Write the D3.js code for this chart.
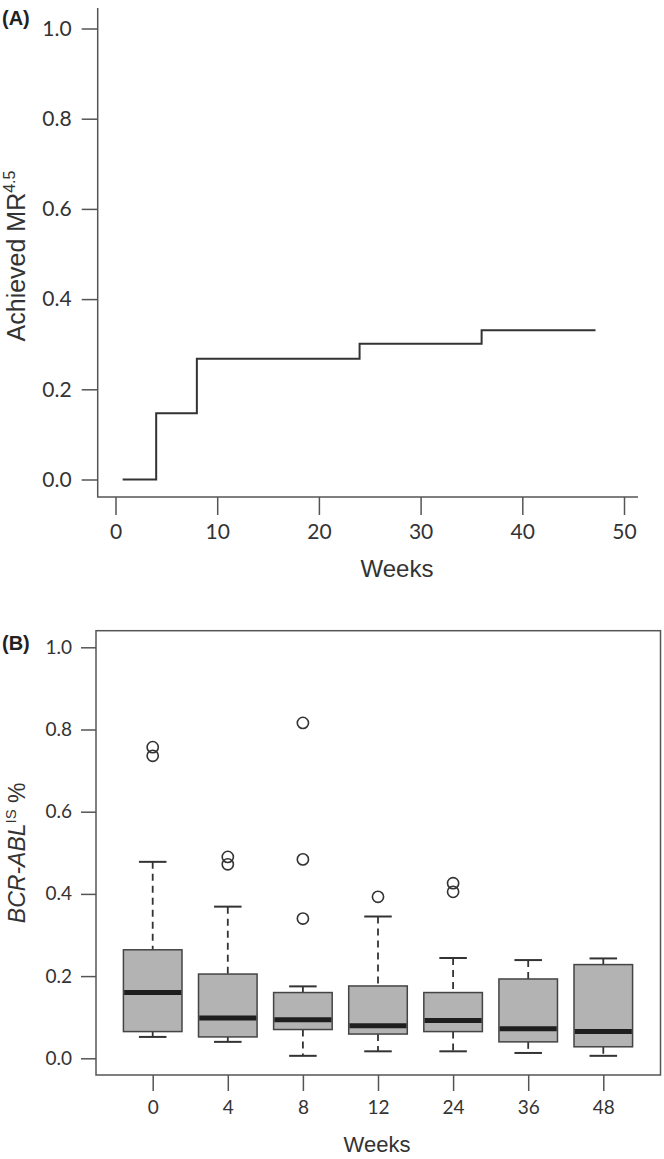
<!DOCTYPE html>
<html>
<head>
<meta charset="utf-8">
<script src="https://cdn.jsdelivr.net/npm/d3@7/dist/d3.min.js"></script>
<style>
  html, body { margin: 0; padding: 0; background: #fff; }
  svg { display: block; }
  .tick text { font-family: Lato, "Open Sans", sans-serif; fill: #333; }
</style>
</head>
<body>
<svg id="chart" width="664" height="1159"></svg>
<script>
// ---------- Data ----------
// Panel A: cumulative incidence of MR4.5 (step function)
const kmTime = [0.7, 4, 8, 24, 36, 47.2];
const kmValue = [0, 0.147, 0.268, 0.301, 0.331, 0.331];
const xTicksA = [0, 10, 20, 30, 40, 50];
const yTicks = [0, 0.2, 0.4, 0.6, 0.8, 1.0];

// Panel B: BCR-ABL IS % boxplots by week
const weeks = ["0", "4", "8", "12", "24", "36", "48"];
const lowerWhisker = [0.052, 0.040, 0.006, 0.017, 0.017, 0.013, 0.006];
const q1 = [0.065, 0.052, 0.070, 0.059, 0.065, 0.040, 0.028];
const median = [0.160, 0.098, 0.094, 0.079, 0.092, 0.072, 0.065];
const q3 = [0.264, 0.205, 0.160, 0.176, 0.160, 0.193, 0.228];
const upperWhisker = [0.478, 0.369, 0.175, 0.345, 0.244, 0.239, 0.243];
const outliers = [[0.757, 0.736], [0.490, 0.472], [0.816, 0.484, 0.340], [0.393], [0.426, 0.405], [], []];

// ---------- Layout ----------
const svg = d3.select("#chart");
const A = { left: 97.7, right: 638, top: 8, bottom: 497, y0: 479.5, y1: 28.5, x0: 115.5, x1: 624 };
const B = { left: 96, right: 660.5, top: 630.7, bottom: 1075, y0: 1058.3, y1: 647.3, x0: 152.7, x1: 603.3 };
const axisColor = "#555";
const lineColor = "#333";
const titleFont = "'Liberation Sans', Arial, sans-serif";

// ---------- Panel A ----------
const xA = d3.scaleLinear().domain([0, 50]).range([A.x0, A.x1]);
const yA = d3.scaleLinear().domain([0, 1]).range([A.y0, A.y1]);

const gA = svg.append("g");
gA.append("path")
  .attr("d", `M${A.left},${A.top}V${A.bottom}H${A.right}`)
  .attr("fill", "none").attr("stroke", axisColor).attr("stroke-width", 1.5);

const yAxisA = d3.axisLeft(yA).tickValues(yTicks).tickFormat(d3.format(".1f")).tickSize(16).tickPadding(10);
const gyA = gA.append("g").attr("transform", `translate(${A.left},0)`).call(yAxisA);
gyA.select(".domain").remove();
gyA.selectAll(".tick line").attr("stroke", axisColor).attr("stroke-width", 1.5);
gyA.selectAll(".tick text").style("font-size", "21px");

const xAxisA = d3.axisBottom(xA).tickValues(xTicksA).tickSize(18).tickPadding(9);
const gxA = gA.append("g").attr("transform", `translate(0,${A.bottom})`).call(xAxisA);
gxA.select(".domain").remove();
gxA.selectAll(".tick line").attr("stroke", axisColor).attr("stroke-width", 1.5);
gxA.selectAll(".tick text").style("font-size", "21px");

const stepLine = d3.line().x((d, i) => xA(kmTime[i])).y((d, i) => yA(kmValue[i])).curve(d3.curveStepAfter);
gA.append("path").datum(kmTime).attr("d", stepLine)
  .attr("fill", "none").attr("stroke", lineColor).attr("stroke-width", 2);

gA.append("text").attr("x", 397).attr("y", 577).attr("text-anchor", "middle")
  .style("font-family", titleFont).style("font-size", "24px").attr("fill", "#333")
  .text("Weeks");

const yLabA = gA.append("text").attr("transform", `translate(25,${(A.y0 + A.y1) / 2 + 2}) rotate(-90)`)
  .attr("text-anchor", "middle")
  .style("font-family", titleFont).style("font-size", "25px").attr("fill", "#333");
yLabA.append("tspan").text("Achieved MR");
yLabA.append("tspan").attr("dy", -10).style("font-size", "16px").text("4.5");

svg.append("text").attr("x", 2).attr("y", 25)
  .style("font-family", titleFont).style("font-size", "20px").style("font-weight", "bold").attr("fill", "#222")
  .text("(A)");

// ---------- Panel B ----------
const xB = d3.scalePoint().domain(weeks).range([B.x0, B.x1]);
const yB = d3.scaleLinear().domain([0, 1]).range([B.y0, B.y1]);
const step = xB.step();
const boxW = step * 0.78;
const capW = boxW * 0.47;

const gB = svg.append("g");
gB.append("rect").attr("x", B.left).attr("y", B.top)
  .attr("width", B.right - B.left).attr("height", B.bottom - B.top)
  .attr("fill", "none").attr("stroke", axisColor).attr("stroke-width", 1.5);

const yAxisB = d3.axisLeft(yB).tickValues(yTicks).tickFormat(d3.format(".1f")).tickSize(15).tickPadding(9);
const gyB = gB.append("g").attr("transform", `translate(${B.left},0)`).call(yAxisB);
gyB.select(".domain").remove();
gyB.selectAll(".tick line").attr("stroke", axisColor).attr("stroke-width", 1.5);
gyB.selectAll(".tick text").style("font-size", "19px");

const xAxisB = d3.axisBottom(xB).tickSize(16).tickPadding(10);
const gxB = gB.append("g").attr("transform", `translate(0,${B.bottom})`).call(xAxisB);
gxB.select(".domain").remove();
gxB.selectAll(".tick line").attr("stroke", axisColor).attr("stroke-width", 1.5);
gxB.selectAll(".tick text").style("font-size", "19px");

const boxes = gB.selectAll("g.box").data(weeks).enter().append("g").attr("class", "box");
boxes.append("line")
  .attr("x1", d => xB(d)).attr("x2", d => xB(d))
  .attr("y1", (d, i) => yB(upperWhisker[i])).attr("y2", (d, i) => yB(q3[i]))
  .attr("stroke", lineColor).attr("stroke-width", 1.8).attr("stroke-dasharray", "7,5");
boxes.append("line")
  .attr("x1", d => xB(d)).attr("x2", d => xB(d))
  .attr("y1", (d, i) => yB(q1[i])).attr("y2", (d, i) => yB(lowerWhisker[i]))
  .attr("stroke", lineColor).attr("stroke-width", 1.8).attr("stroke-dasharray", "7,5");
boxes.append("line")
  .attr("x1", d => xB(d) - capW / 2).attr("x2", d => xB(d) + capW / 2)
  .attr("y1", (d, i) => yB(upperWhisker[i])).attr("y2", (d, i) => yB(upperWhisker[i]))
  .attr("stroke", lineColor).attr("stroke-width", 2);
boxes.append("line")
  .attr("x1", d => xB(d) - capW / 2).attr("x2", d => xB(d) + capW / 2)
  .attr("y1", (d, i) => yB(lowerWhisker[i])).attr("y2", (d, i) => yB(lowerWhisker[i]))
  .attr("stroke", lineColor).attr("stroke-width", 2);
boxes.append("rect")
  .attr("x", d => xB(d) - boxW / 2).attr("width", boxW)
  .attr("y", (d, i) => yB(q3[i])).attr("height", (d, i) => yB(q1[i]) - yB(q3[i]))
  .attr("fill", "#b3b3b3").attr("stroke", "#444").attr("stroke-width", 1.5);
boxes.append("line")
  .attr("x1", d => xB(d) - boxW / 2 + 0.75).attr("x2", d => xB(d) + boxW / 2 - 0.75)
  .attr("y1", (d, i) => yB(median[i])).attr("y2", (d, i) => yB(median[i]))
  .attr("stroke", "#1e1e1e").attr("stroke-width", 5);
boxes.each(function (d, i) {
  d3.select(this).selectAll("circle").data(outliers[i]).enter().append("circle")
    .attr("cx", xB(d)).attr("cy", v => yB(v)).attr("r", 5.6)
    .attr("fill", "none").attr("stroke", lineColor).attr("stroke-width", 1.6);
});

gB.append("text").attr("x", 377).attr("y", 1152).attr("text-anchor", "middle")
  .style("font-family", titleFont).style("font-size", "22px").attr("fill", "#333")
  .text("Weeks");

const yLabB = gB.append("text").attr("transform", `translate(25,${(B.y0 + B.y1) / 2}) rotate(-90)`)
  .attr("text-anchor", "middle")
  .style("font-family", titleFont).style("font-size", "23px").attr("fill", "#333");
yLabB.append("tspan").style("font-style", "italic").text("BCR-ABL");
yLabB.append("tspan").attr("dy", -9).style("font-size", "15px").text("IS");
yLabB.append("tspan").attr("dy", 9).text(" %");

svg.append("text").attr("x", 2).attr("y", 650)
  .style("font-family", titleFont).style("font-size", "20px").style("font-weight", "bold").attr("fill", "#222")
  .text("(B)");
</script>
</body>
</html>
